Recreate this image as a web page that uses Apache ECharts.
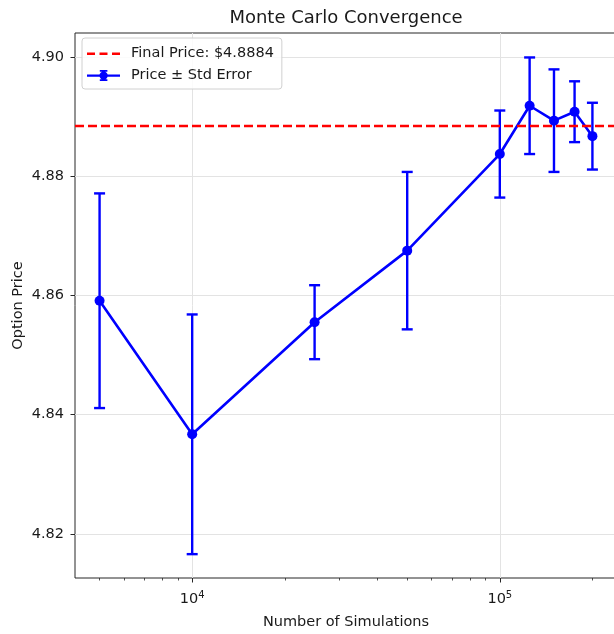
<!DOCTYPE html>
<html><head><meta charset="utf-8">
<script src="https://cdn.jsdelivr.net/npm/echarts@6/dist/echarts.min.js"></script>
<style>html,body{margin:0;padding:0;background:#fff}#c{width:614px;height:634px}</style>
</head><body><div id="c"></div>
<script>
const simulations = [5000, 10000, 25000, 50000, 100000, 125000, 150000, 175000, 200000];
const prices = [4.8591, 4.8367, 4.8555, 4.8675, 4.8837, 4.8918, 4.8893, 4.8908, 4.8867];
const stdErrors = [0.0180, 0.0201, 0.0062, 0.0132, 0.0073, 0.0081, 0.0086, 0.0051, 0.0056];
const finalPrice = 4.8884;
const yTicks = [4.82, 4.84, 4.86, 4.88, 4.90];
const xMajorTicks = [10000, 100000];
const xMinorTicks = [5000, 6000, 7000, 8000, 9000, 20000, 30000, 40000, 50000, 60000, 70000, 80000, 90000, 200000];

const finalName = 'Final Price: $' + finalPrice.toFixed(4);
const mainName = 'Price \u00b1 Std Error';
const FONT = 'DejaVu Sans';
const TXT = '#1a1a1a';
const FS = 14.5;
const GRIDPOS = {left: 75, top: 33, width: 542, height: 545, outerBoundsMode: 'none', containLabel: false};
const XMIN = 4160, XMAX = 240400, YMIN = 4.8126, YMAX = 4.904;

const dashIcon = 'path://M0,0M33,14M0,6h8v2.6h-8zM12.5,6h8v2.6h-8zM25,6h8v2.6h-8z';
const ebIcon = 'path://M0,0M33,14M0,5.9h33v2.4h-33zM15.5,1.5h2.2v11h-2.2zM12.8,1.5h7.6v1.8h-7.6zM12.8,10.7h7.6v1.8h-7.6zM12.4,7.1a4.2,4.2 0 1,1 8.4,0a4.2,4.2 0 1,1 -8.4,0z';

const chart = echarts.init(document.getElementById('c'), null, {renderer: 'canvas'});
chart.setOption({
  animation: false,
  textStyle: {fontFamily: FONT},
  title: {
    text: 'Monte Carlo Convergence',
    left: 341, top: 4, textAlign: 'center',
    textStyle: {fontFamily: FONT, fontSize: 18, fontWeight: 'normal', color: TXT}
  },
  legend: {
    orient: 'vertical', left: 82, top: 38,
    padding: [8, 8, 6, 5], itemGap: 7,
    itemWidth: 33, itemHeight: 14,
    backgroundColor: 'rgba(255,255,255,0.85)',
    borderColor: '#d0d0d0', borderWidth: 1, borderRadius: 3,
    itemStyle: {borderWidth: 0},
    textStyle: {fontFamily: FONT, fontSize: FS, color: TXT, padding: [0, 0, 0, 6]},
    data: [
      {name: finalName, icon: dashIcon, itemStyle: {color: 'red', borderWidth: 0}},
      {name: mainName, icon: ebIcon, itemStyle: {color: '#0000ff', borderWidth: 0}}
    ]
  },
  grid: [
    Object.assign({show: true, borderColor: '#262626', borderWidth: 1}, GRIDPOS),
    Object.assign({show: false}, GRIDPOS)
  ],
  xAxis: [{
    type: 'log', logBase: 10, gridIndex: 0, min: XMIN, max: XMAX,
    name: 'Number of Simulations', nameLocation: 'middle', nameGap: 37, nameMoveOverlap: false,
    nameTextStyle: {fontFamily: FONT, fontSize: FS, color: TXT},
    axisLine: {show: false},
    axisTick: {show: true, customValues: xMajorTicks, length: 4.5, lineStyle: {color: '#262626', width: 1}},
    axisLabel: {
      customValues: xMajorTicks, margin: 12, color: TXT,
      formatter: v => '{b|10}{s|' + Math.round(Math.log10(v)) + '}',
      rich: {b: {fontFamily: FONT, fontSize: FS, color: TXT}, s: {fontFamily: FONT, fontSize: 10, color: TXT, padding: [0, 0, 8, 0]}}
    },
    splitLine: {show: true, lineStyle: {color: '#e3e3e3', width: 1}}
  }, {
    type: 'log', logBase: 10, gridIndex: 1, min: XMIN, max: XMAX, position: 'bottom',
    axisLine: {show: false},
    axisTick: {show: true, customValues: xMinorTicks, length: 2.5, lineStyle: {color: '#262626', width: 0.8}},
    axisLabel: {show: false},
    splitLine: {show: false}
  }],
  yAxis: [{
    type: 'value', gridIndex: 0, min: YMIN, max: YMAX,
    name: 'Option Price', nameLocation: 'middle', nameGap: 49, nameMoveOverlap: false,
    nameTextStyle: {fontFamily: FONT, fontSize: FS, color: TXT},
    axisLine: {show: false},
    axisTick: {show: true, customValues: yTicks, length: 4.5, lineStyle: {color: '#262626', width: 1}},
    axisLabel: {customValues: yTicks, margin: 11, fontFamily: FONT, fontSize: FS, color: TXT, formatter: v => v.toFixed(2)},
    splitLine: {show: true, lineStyle: {color: '#e3e3e3', width: 1}}
  }, {
    type: 'value', gridIndex: 1, min: YMIN, max: YMAX, show: false
  }],
  series: [{
    type: 'line', name: finalName, xAxisIndex: 0, yAxisIndex: 0, data: [],
    itemStyle: {color: 'red'}, z: 1,
    markLine: {
      silent: true, symbol: ['none', 'none'], label: {show: false}, precision: 4,
      lineStyle: {color: 'red', type: [9, 4], width: 2.4},
      data: [{yAxis: finalPrice}]
    }
  }, {
    type: 'custom', name: mainName, xAxisIndex: 0, yAxisIndex: 0, z: 3,
    itemStyle: {color: '#0000ff'},
    encode: {x: 0, y: [1, 2]},
    data: simulations.map((s, i) => [s, prices[i] - stdErrors[i], prices[i] + stdErrors[i]]),
    renderItem: (params, api) => {
      const x = api.value(0);
      const lo = api.coord([x, api.value(1)]);
      const hi = api.coord([x, api.value(2)]);
      const hw = 5.5;
      const style = {stroke: '#0000ff', lineWidth: 2.4};
      return {type: 'group', children: [
        {type: 'line', shape: {x1: lo[0], y1: lo[1], x2: hi[0], y2: hi[1]}, style},
        {type: 'line', shape: {x1: lo[0] - hw, y1: lo[1], x2: lo[0] + hw, y2: lo[1]}, style},
        {type: 'line', shape: {x1: hi[0] - hw, y1: hi[1], x2: hi[0] + hw, y2: hi[1]}, style}
      ]};
    }
  }, {
    type: 'line', name: mainName, xAxisIndex: 0, yAxisIndex: 0, z: 4,
    data: simulations.map((s, i) => [s, prices[i]]),
    symbol: 'circle', symbolSize: 10, showSymbol: true,
    itemStyle: {color: '#0000ff'},
    lineStyle: {color: '#0000ff', width: 2.6}
  }]
});
</script></body></html>
